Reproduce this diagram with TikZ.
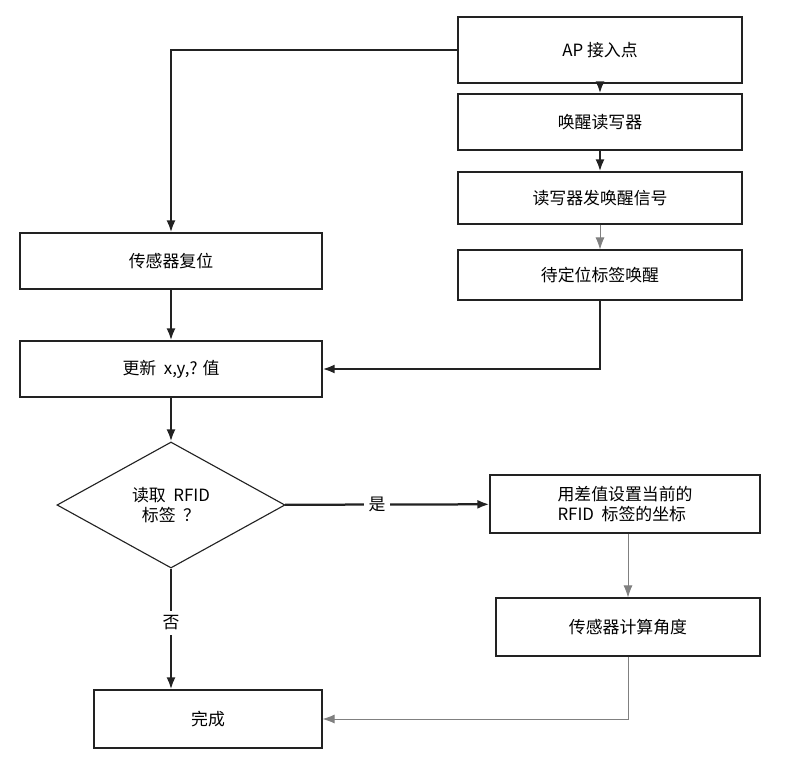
\documentclass[tikz,border=0pt]{standalone}
\usepackage{fontspec}
\setmainfont{Noto Sans CJK SC}
\usetikzlibrary{shapes.geometric, arrows.meta, positioning, calc}
\definecolor{flowline}{HTML}{222222}

\begin{document}
\begin{tikzpicture}[
    x=0.025cm, y=-0.025cm,
    every node/.style={font=\large},
    box/.style={
        rectangle,
        draw=flowline,
        line width=0.8pt,
        minimum height=1.4cm,
        minimum width=7.1cm,
        text centered
    },
    cond/.style={
        diamond,
        draw=flowline,
        line width=0.8pt,
        aspect=1.8,
        minimum width=5.7cm,
        minimum height=3.15cm,
        inner sep=0pt,
        align=center
    },
    myarrow/.style={
        ->,
        >={Latex[length=3mm]},
        line width=1.6pt,
        draw=flowline
    },
    thinarrow/.style={
        myarrow,
        line width=0.6pt,
        draw=gray
    },
    mylabel/.style={
        font=\large,
        fill=white
    }
]
\useasboundingbox (0,0) rectangle (800,756);

% Right column: wake-up chain
\node[box, minimum height=1.65cm] (ap) at (600,50) {AP 接入点};
\node[box] (wake) at (600,122) {唤醒读写器};
\node[box, minimum height=1.3cm] (signal) at (600,198) {读写器发唤醒信号};
\node[box, minimum height=1.25cm] (tagwake) at (600,275) {待定位标签唤醒};

% Left column
\node[box, minimum width=7.55cm] (reset) at (171,261) {传感器复位};
\node[box, minimum width=7.55cm] (update) at (171,369) {更新 \ x,y,? 值};
\node[cond] (read) at (171,505) {读取 \ RFID\\标签 \ ？};
\node[box, minimum width=5.7cm, minimum height=1.45cm] (done) at (208,719) {完成};

% Lower right
\node[box, minimum width=6.75cm, minimum height=1.45cm, align=left] (setpos) at (625,504) {用差值设置当前的\\RFID \ 标签的坐标};
\node[box, minimum width=6.6cm, minimum height=1.45cm] (angle) at (628,627) {传感器计算角度};

% Arrows
\draw[myarrow] (ap.west) -| (reset.north);
\draw[myarrow] (ap) -- (wake);
\draw[myarrow] (wake) -- (signal);
\draw[thinarrow] (signal) -- (tagwake);
\draw[myarrow] (tagwake.south) |- (update.east);
\draw[myarrow] (reset) -- (update);
\draw[myarrow] (update) -- (read);
\draw[myarrow] (read) -- node[mylabel, pos=0.45] {是} (setpos);
\draw[myarrow] (read.south) -- node[mylabel, pos=0.45] {否} (read.south |- done.north);
\draw[thinarrow] (setpos.south -| angle.south) -- (angle.north);
\draw[thinarrow] (angle.south) |- (done.east);

\end{tikzpicture}
\end{document}
